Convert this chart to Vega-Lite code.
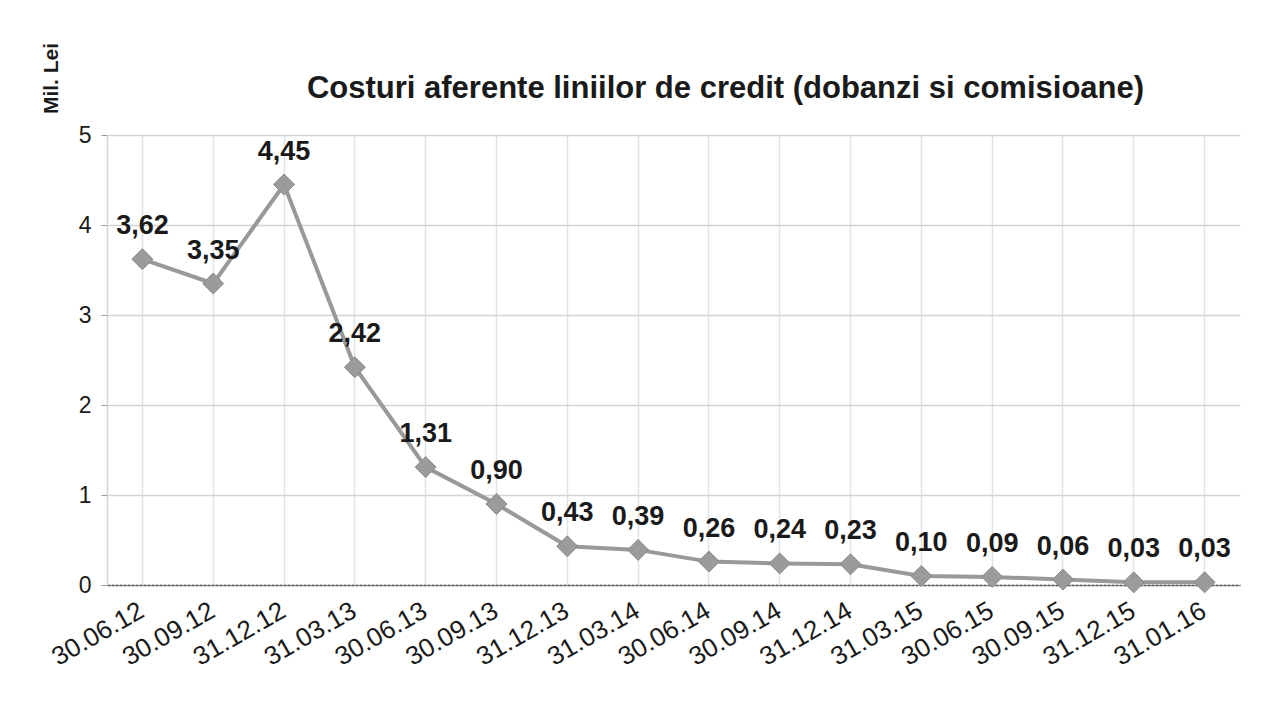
{
  "$schema": "https://vega.github.io/schema/vega-lite/v6.json",
  "autosize": "none",
  "width": 1133,
  "height": 450,
  "padding": {"left": 107, "top": 135, "right": 21, "bottom": 124},
  "background": "#ffffff",
  "config": {
    "locale": {"number": {"decimal": ",", "thousands": ".", "grouping": [3], "currency": ["", ""]}},
    "view": {"stroke": null},
    "font": "Liberation Sans"
  },
  "title": {
    "text": "Costuri aferente liniilor de credit (dobanzi si comisioane)",
    "font": "Liberation Sans",
    "fontSize": 31,
    "fontWeight": "bold",
    "color": "#1a1a1a",
    "anchor": "middle",
    "frame": "group",
    "dx": 52,
    "dy": 93,
    "offset": 30
  },
  "data": {
    "values": [
      {"date": "30.06.12", "value": 3.62},
      {"date": "30.09.12", "value": 3.35},
      {"date": "31.12.12", "value": 4.45},
      {"date": "31.03.13", "value": 2.42},
      {"date": "30.06.13", "value": 1.31},
      {"date": "30.09.13", "value": 0.90},
      {"date": "31.12.13", "value": 0.43},
      {"date": "31.03.14", "value": 0.39},
      {"date": "30.06.14", "value": 0.26},
      {"date": "30.09.14", "value": 0.24},
      {"date": "31.12.14", "value": 0.23},
      {"date": "31.03.15", "value": 0.10},
      {"date": "30.06.15", "value": 0.09},
      {"date": "30.09.15", "value": 0.06},
      {"date": "31.12.15", "value": 0.03},
      {"date": "31.01.16", "value": 0.03}
    ]
  },
  "encoding": {
    "x": {
      "field": "date",
      "type": "ordinal",
      "sort": null,
      "scale": {"type": "band", "paddingInner": 0, "paddingOuter": 0},
      "axis": {
        "title": null,
        "labelAngle": -30,
        "labelAlign": "right",
        "labelBaseline": "top",
        "labelFontSize": 26,
        "labelColor": "#1a1a1a",
        "labelPadding": 12,
        "labelOffset": -7,
        "ticks": false,
        "bandPosition": 0.5,
        "grid": true,
        "gridColor": "#dfe3ea",
        "gridWidth": 1.5,
        "domainColor": "#555555",
        "domainWidth": 1.5,
        "domainDash": [3, 1]
      }
    },
    "y": {
      "field": "value",
      "type": "quantitative",
      "scale": {"domain": [0, 5]},
      "axis": {
        "title": "Mil. Lei",
        "titleFontSize": 21,
        "titleFontWeight": "bold",
        "titleColor": "#1a1a1a",
        "titleAngle": 270,
        "titleAlign": "center",
        "titleBaseline": "middle",
        "titleX": -56,
        "titleY": -57,
        "values": [0, 1, 2, 3, 4, 5],
        "format": "d",
        "labelFontSize": 23,
        "labelColor": "#1a1a1a",
        "labelPadding": 10,
        "tickSize": 6,
        "tickColor": "#999999",
        "gridColor": "#d4d4d4",
        "gridWidth": 1.5,
        "domainColor": "#d0d4dc",
        "domainWidth": 1.5
      }
    }
  },
  "layer": [
    {
      "mark": {"type": "line", "color": "#999999", "strokeWidth": 4}
    },
    {
      "mark": {"type": "point", "shape": "diamond", "filled": true, "size": 440, "color": "#9b9b9b", "stroke": "#8a8a8a", "strokeWidth": 1, "opacity": 1}
    },
    {
      "mark": {"type": "text", "fontSize": 27, "fontWeight": "bold", "color": "#1a1a1a", "baseline": "bottom", "dy": -19},
      "encoding": {
        "text": {"field": "value", "type": "quantitative", "format": ".2f"}
      }
    }
  ]
}
